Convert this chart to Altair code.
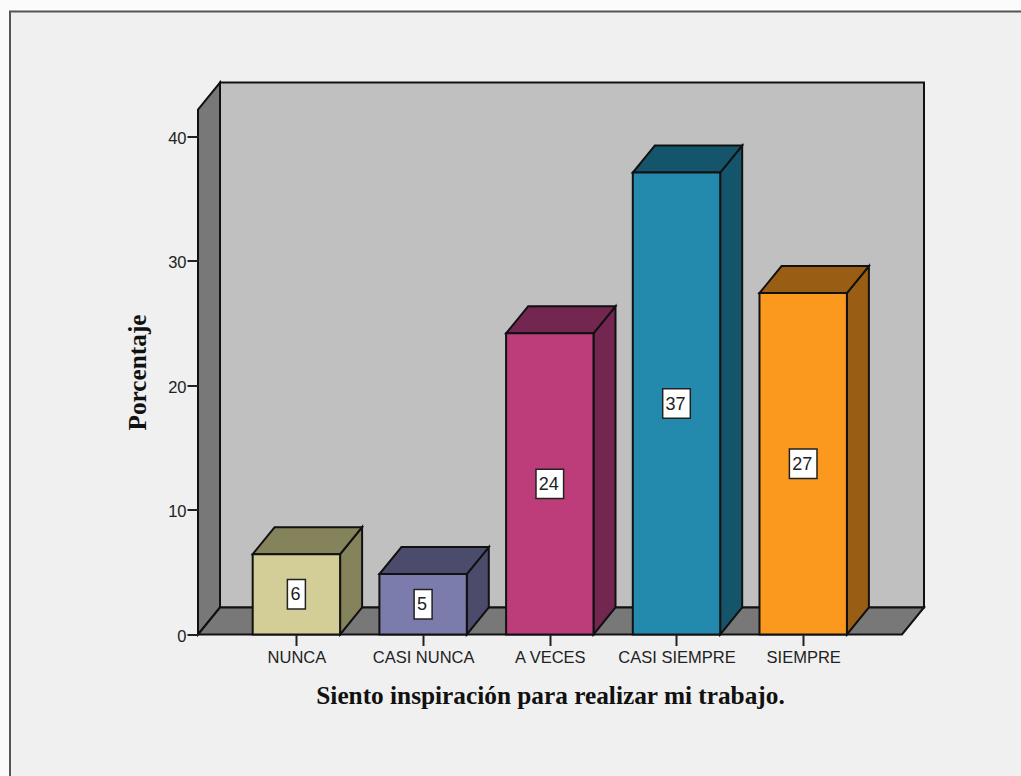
import altair as alt
import pandas as pd

# Survey responses, in percent
categories = ["NUNCA", "CASI NUNCA", "A VECES", "CASI SIEMPRE", "SIEMPRE"]
percentages = [6.45, 4.85, 24.17, 37.07, 27.4]
y_ticks = [0, 10, 20, 30, 40]

# Face colours for each bar
front_colors = ["#d3ce97", "#7c7cac", "#bc3d7a", "#238aae", "#fb991e"]
shade_colors = ["#85835c", "#4b4b6b", "#73264f", "#15556c", "#995e13"]

# Plot geometry (pixels)
PLOT_W = 704
PLOT_H = 525
PX_PER_CAT = 126.7
PX_PER_UNIT = 12.46

x_min = -0.7766
x_max = x_min + PLOT_W / PX_PER_CAT
y_max = PLOT_H / PX_PER_UNIT
depth_x = 22 / PX_PER_CAT
depth_y = 27 / PX_PER_UNIT
half_bar = 43.7 / PX_PER_CAT

x_scale = alt.Scale(domain=[x_min, x_max], nice=False, zero=False)
y_scale = alt.Scale(domain=[0, y_max], nice=False, zero=False)

OUTLINE = {"stroke": "#111111", "strokeWidth": 2}

X = alt.X("x:Q", scale=x_scale, axis=None)
X2 = alt.X2("x2:Q")
Y = alt.Y("y:Q", scale=y_scale, axis=None, stack=None)
Y2 = alt.Y2("y2:Q")

# Room of the 3D frame: back wall, left wall and floor
back_wall = alt.Chart(pd.DataFrame({
    "x": [x_min + depth_x], "x2": [x_max + depth_x],
    "y": [depth_y], "y2": [y_max + depth_y],
})).mark_rect(color="#c0c0c0", **OUTLINE, clip=False).encode(x=X, x2=X2, y=Y, y2=Y2)

left_wall = alt.Chart(pd.DataFrame({
    "x": [x_min, x_min + depth_x], "y": [0, depth_y],
    "y2": [y_max, y_max + depth_y],
})).mark_area(color="#787878", **OUTLINE, clip=False).encode(x=X, y=Y, y2=Y2)

floor = alt.Chart(pd.DataFrame({
    "y": [0, depth_y], "x": [x_min, x_min + depth_x],
    "x2": [x_max, x_max + depth_x],
})).mark_area(color="#787878", orient="horizontal", **OUTLINE, clip=False).encode(
    x=X, x2=X2, y=Y)

# One row per corner pair for the slanted faces of each bar
side_rows, top_rows = [], []
for i, (cat, value) in enumerate(zip(categories, percentages)):
    left, right = i - half_bar, i + half_bar
    side_rows += [
        {"cat": cat, "x": right, "y": 0, "y2": value},
        {"cat": cat, "x": right + depth_x, "y": depth_y, "y2": value + depth_y},
    ]
    top_rows += [
        {"cat": cat, "y": value, "x": left, "x2": right},
        {"cat": cat, "y": value + depth_y, "x": left + depth_x, "x2": right + depth_x},
    ]

shade = alt.Color("cat:N", scale=alt.Scale(domain=categories, range=shade_colors), legend=None)
front = alt.Color("cat:N", scale=alt.Scale(domain=categories, range=front_colors), legend=None)

bar_sides = alt.Chart(pd.DataFrame(side_rows)).mark_area(**OUTLINE, clip=False).encode(
    x=X, y=Y, y2=Y2, color=shade, detail="cat:N")
bar_tops = alt.Chart(pd.DataFrame(top_rows)).mark_area(
    orient="horizontal", **OUTLINE, clip=False
).encode(x=X, x2=X2, y=Y, color=shade, detail="cat:N")

bars = pd.DataFrame({
    "cat": categories,
    "pos": range(len(categories)),
    "value": percentages,
})
bars["x"] = bars["pos"] - half_bar
bars["x2"] = bars["pos"] + half_bar
bars["y"] = 0.0

names_js = "[" + ",".join(f"'{c}'" for c in categories) + "]"

bar_fronts = alt.Chart(bars).mark_rect(**OUTLINE, clip=False).encode(
    x=alt.X("x:Q", scale=x_scale, axis=None),
    x2=X2,
    y=alt.Y("y:Q", scale=y_scale, axis=None),
    y2=alt.Y2("value:Q"),
    color=front,
)

axis_common = dict(
    grid=False, domain=False, tickColor="#222222", tickWidth=2, zindex=1,
    labelFont="Liberation Sans", labelFontSize=16.5, labelColor="#222222",
    titleFont="Liberation Serif", titleFontWeight="bold", titleFontSize=25.3,
    titleColor="#111111",
)

# Invisible layer that only carries the visible axes
axes = alt.Chart(bars).mark_point(opacity=0).encode(
    x=alt.X("pos:Q", scale=x_scale, title="Siento inspiración para realizar mi trabajo.",
            axis=alt.Axis(values=list(range(len(categories))),
                          labelExpr=f"{names_js}[datum.value]",
                          tickSize=11, labelPadding=4, labelOverlap=False,
                          labelFlush=False, titlePadding=17, **axis_common)),
    y=alt.Y("y:Q", scale=y_scale, title="Porcentaje",
            axis=alt.Axis(values=y_ticks, tickSize=11, labelPadding=1, labelOffset=2,
                          titlePadding=17, **axis_common)),
)

# White value tags centred on each bar
boxes = bars.copy()
boxes["mid"] = boxes["value"] / 2
boxes["text"] = boxes["value"].map(lambda v: f"{v:.0f}")
box_half_w = boxes["text"].str.len().map({1: 9, 2: 13.8}) / PX_PER_CAT
boxes["bx"] = boxes["pos"] - box_half_w
boxes["bx2"] = boxes["pos"] + box_half_w
boxes["by"] = boxes["mid"] - 14.7 / PX_PER_UNIT
boxes["by2"] = boxes["mid"] + 14.7 / PX_PER_UNIT

tag_boxes = alt.Chart(boxes).mark_rect(
    color="white", stroke="#222222", strokeWidth=1.5, clip=False
).encode(
    x=alt.X("bx:Q", scale=x_scale, axis=None),
    x2=alt.X2("bx2:Q"),
    y=alt.Y("by:Q", scale=y_scale, axis=None),
    y2=alt.Y2("by2:Q"),
)
tag_text = alt.Chart(boxes).mark_text(
    font="Liberation Sans", fontSize=18, color="#222222", dy=1, dx=-1
).encode(
    x=alt.X("pos:Q", scale=x_scale, axis=None),
    y=alt.Y("mid:Q", scale=y_scale, axis=None),
    text="text:N",
)

# Panel behind the chart with its dark edge along the left and top
panel = alt.Chart(pd.DataFrame({"k": [0]})).mark_rect(
    color="#f0f0f0", stroke="#555555", strokeWidth=2, clip=False
).encode(
    x=alt.value(-188), x2=alt.value(900),
    y=alt.value(-98), y2=alt.value(800),
)

chart = alt.layer(
    panel, back_wall, left_wall, floor,
    bar_sides, bar_tops, bar_fronts, tag_boxes, tag_text, axes,
).resolve_scale(color="independent").resolve_axis(x="independent", y="independent").properties(
    width=PLOT_W,
    height=PLOT_H,
    padding={"left": 198, "top": 109.5, "right": 119, "bottom": 141.5},
    autosize=alt.AutoSizeParams(type="none"),
    background="#fbfbfb",
).configure_view(stroke=None)

chart.save("out.html", embed_options={"renderer": "svg", "actions": False})
